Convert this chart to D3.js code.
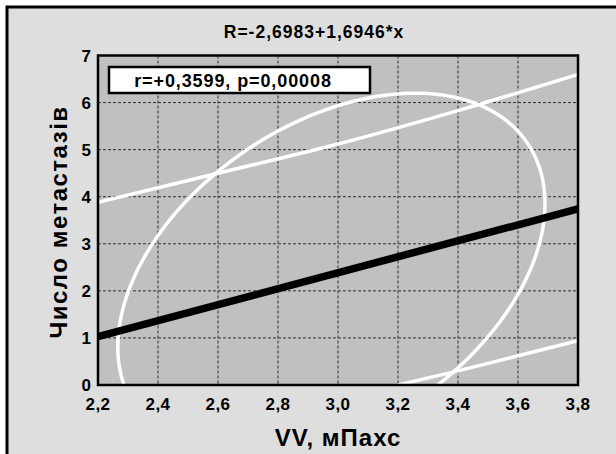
<!DOCTYPE html>
<html>
<head>
<meta charset="utf-8">
<script src="https://cdn.jsdelivr.net/npm/d3@7"></script>
<style>
  html, body { margin: 0; padding: 0; background: #ffffff; }
  svg { display: block; }
  text { font-family: "Liberation Sans", Arial, sans-serif; font-weight: bold; fill: #000; }
</style>
</head>
<body>
<svg id="chart" width="616" height="454"></svg>
<script>
// ---- data ----
const titleText = "R=-2,6983+1,6946*x";
const legendText = "r=+0,3599, p=0,00008";
const xTitle = "VV, мПахс";
const yTitle = "Число метастазів";
const xTicks = [2.2, 2.4, 2.6, 2.8, 3.0, 3.2, 3.4, 3.6, 3.8];
const yTicks = [0, 1, 2, 3, 4, 5, 6, 7];
const regIntercept = -2.6983;
const regSlope = 1.6946;
const regX = [2.2, 3.8];
const upperBandX = [2.2, 2.6, 3.0, 3.4, 3.8];
const upperBandY = [3.88, 4.5, 5.12, 5.83, 6.6];
const lowerBandX = [3.2, 3.4, 3.6, 3.8];
const lowerBandY = [0.0, 0.3, 0.62, 0.94];
// ellipse: centre x, centre y, x half-extent, y half-extent, phase (rad)
const ellipseCenter = [2.978, 2.33];
const ellipseHalf = [0.712, 3.87];
const ellipsePhase = [1.167];

// ---- drawing ----
const svg = d3.select("#chart");
const W = 616, H = 454;
const m = { left: 98, right: 578, top: 55.5, bottom: 385 };

svg.append("rect").attr("x", 0).attr("y", 0).attr("width", W).attr("height", H).attr("fill", "#ffffff");
svg.append("rect").attr("x", 7).attr("y", 7).attr("width", W + 20).attr("height", H + 20)
  .attr("fill", "#dedede").attr("stroke", "#000").attr("stroke-width", 3);

const x = d3.scaleLinear().domain([2.2, 3.8]).range([m.left, m.right]);
const y = d3.scaleLinear().domain([0, 7]).range([m.bottom, m.top]);

// plot background
svg.append("rect").attr("x", m.left).attr("y", m.top)
  .attr("width", m.right - m.left).attr("height", m.bottom - m.top)
  .attr("fill", "#c0c0c0");

// grid
const grid = svg.append("g");
grid.selectAll(".gx").data(xTicks.slice(1, -1)).enter().append("line")
  .attr("x1", d => x(d)).attr("x2", d => x(d)).attr("y1", m.top).attr("y2", m.bottom)
  .attr("stroke", "#303030").attr("stroke-width", 1).attr("stroke-dasharray", "3,2");
grid.selectAll(".gy").data(yTicks.slice(1, -1)).enter().append("line")
  .attr("y1", d => y(d)).attr("y2", d => y(d)).attr("x1", m.left).attr("x2", m.right)
  .attr("stroke", "#303030").attr("stroke-width", 1).attr("stroke-dasharray", "3,2");

svg.append("clipPath").attr("id", "clip").append("rect")
  .attr("x", m.left).attr("y", m.top).attr("width", m.right - m.left).attr("height", m.bottom - m.top);
const plot = svg.append("g").attr("clip-path", "url(#clip)");

// ellipse
const N = 240;
const ellPts = d3.range(N + 1).map(i => {
  const t = i / N * 2 * Math.PI;
  return [ellipseCenter[0] + ellipseHalf[0] * Math.cos(t),
          ellipseCenter[1] + ellipseHalf[1] * Math.cos(t - ellipsePhase[0])];
});
const lineGen = d3.line().x(d => x(d[0])).y(d => y(d[1]));
plot.append("path").attr("d", lineGen(ellPts)).attr("fill", "none")
  .attr("stroke", "#ffffff").attr("stroke-width", 3.5);

// bands
const bandGen = d3.line().x(d => x(d[0])).y(d => y(d[1])).curve(d3.curveMonotoneX);
plot.append("path").attr("d", bandGen(upperBandX.map((v, i) => [v, upperBandY[i]])))
  .attr("fill", "none").attr("stroke", "#ffffff").attr("stroke-width", 3.5);
plot.append("path").attr("d", bandGen(lowerBandX.map((v, i) => [v, lowerBandY[i]])))
  .attr("fill", "none").attr("stroke", "#ffffff").attr("stroke-width", 3.5);

// regression
plot.append("path").attr("d", lineGen(regX.map(v => [v, regIntercept + regSlope * v])))
  .attr("fill", "none").attr("stroke", "#000").attr("stroke-width", 7.5);

// plot border
svg.append("rect").attr("x", m.left).attr("y", m.top)
  .attr("width", m.right - m.left).attr("height", m.bottom - m.top)
  .attr("fill", "none").attr("stroke", "#000").attr("stroke-width", 2.5);

// axes labels
const fmt = d => d3.format(".1f")(d).replace(".", ",");
svg.selectAll(".xt").data(xTicks).enter().append("text")
  .attr("x", d => x(d)).attr("y", 410).attr("text-anchor", "middle")
  .attr("font-size", 17).attr("letter-spacing", 0.5).text(fmt);
svg.selectAll(".yt").data(yTicks).enter().append("text")
  .attr("x", 91).attr("y", d => y(d) + 6).attr("text-anchor", "end")
  .attr("font-size", 17).text(d => d);

// title
svg.append("text").attr("x", 314).attr("y", 38).attr("text-anchor", "middle")
  .attr("font-size", 17.5).attr("letter-spacing", 1).text(titleText);

// legend box
svg.append("rect").attr("x", 109).attr("y", 67).attr("width", 261).attr("height", 26)
  .attr("fill", "#fff").attr("stroke", "#000").attr("stroke-width", 2.5);
svg.append("text").attr("x", 233).attr("y", 87).attr("text-anchor", "middle")
  .attr("font-size", 18).attr("letter-spacing", 0.9).text(legendText);

// axis titles
svg.append("text").attr("x", 338).attr("y", 446).attr("text-anchor", "middle")
  .attr("font-size", 24).attr("letter-spacing", 1).text(xTitle);
svg.append("text").attr("transform", "translate(67,222) rotate(-90)")
  .attr("text-anchor", "middle").attr("font-size", 24).attr("letter-spacing", 1.5).text(yTitle);
</script>
</body>
</html>
